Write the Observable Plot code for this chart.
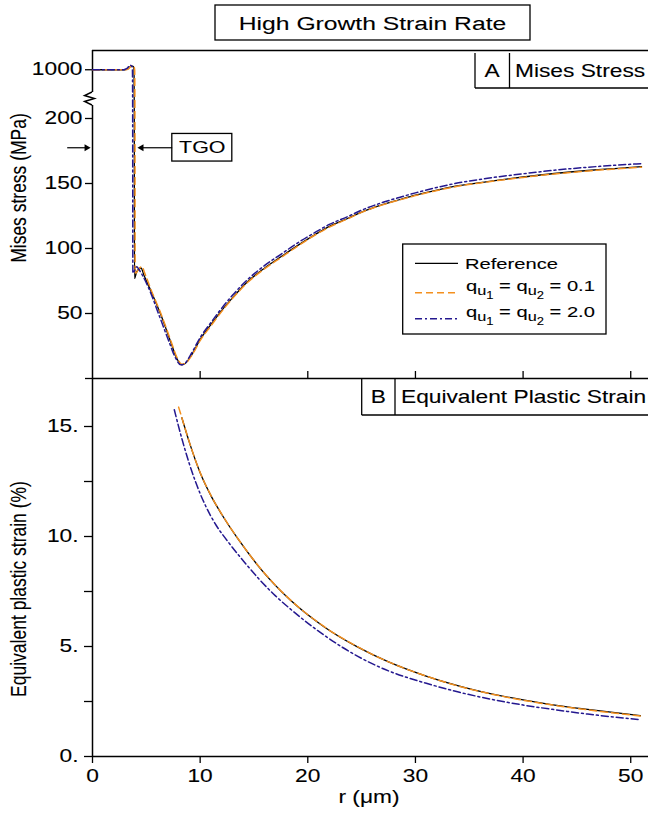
<!DOCTYPE html>
<html>
<head>
<meta charset="utf-8">
<script src="https://cdn.jsdelivr.net/npm/d3@7"></script>
<script src="https://cdn.jsdelivr.net/npm/@observablehq/plot@0.6"></script>
<style>
html,body{margin:0;padding:0;background:#fff;}
#chart{width:648px;height:813px;overflow:hidden;}
#chart svg{display:block;overflow:visible;}
#chart svg text{stroke:#000;stroke-width:0.1px;}
</style>
</head>
<body>
<div id="chart"></div>
<script>
// ---------------- data ----------------
// Panel A: Mises stress (MPa) vs r (µm)
const refStressR = [0, 3.0, 3.3, 3.6, 3.8, 3.86, 3.88, 3.9, 4.1, 4.5, 4.8, 5.5, 6.35, 7.27, 7.8, 8.3, 8.6, 9.2, 10.06, 11, 11.9, 13, 14.4, 16, 17.5, 19, 20.6, 22, 23.7, 25, 26.8, 28.5, 30, 32, 34, 36.7, 40, 42.9, 46, 48.5, 51];
const refStress  = [1000, 1000, 1003, 1012, 1010, 990, 300, 77, 82, 85, 79, 66, 49, 28, 16, 10.5, 11.5, 18, 30.8, 41.5, 51.3, 62, 74.4, 85, 93.6, 102, 110.3, 117, 123.1, 128, 133.4, 137.5, 141, 144.9, 148.3, 151.5, 155, 157.7, 160, 161.5, 163];
const q01StressR = [0, 3.0, 3.35, 3.65, 3.85, 3.92, 3.94, 3.96, 4.2, 4.58, 4.9, 5.5, 6.35, 7.3, 7.8, 8.3, 8.6, 9.2, 10.06, 11, 11.9, 13, 14.4, 16, 17.5, 19, 20.6, 22, 23.7, 25, 26.8, 28.5, 30, 32, 34, 36.7, 40, 42.9, 46, 48.5, 51];
const q01Stress  = [1000, 1000, 1003, 1012, 1010, 990, 300, 80, 83, 86, 80, 67, 50, 28.5, 17, 11, 11.5, 17.5, 30, 40.5, 50.5, 61.5, 73.8, 84.5, 93, 101.5, 110, 116.5, 122.8, 127.8, 133.2, 137.3, 140.7, 144.6, 148, 151.2, 154.7, 157.3, 159.6, 161.1, 162.5];
const q20StressR = [0, 2.9, 3.2, 3.5, 3.66, 3.71, 3.73, 3.75, 4.12, 4.3, 4.6, 5.3, 6.17, 7.1, 7.7, 8.2, 8.5, 9.1, 10, 11, 11.9, 13, 14.4, 16, 17.5, 19, 20.6, 22, 23.7, 25, 26.8, 28.5, 30, 32, 34, 36.7, 40, 42.9, 46, 48.5, 51];
const q20Stress  = [1000, 1000, 1004, 1014, 1010, 990, 300, 81, 86, 84, 80, 68, 49, 28.5, 16, 10.5, 11, 18, 31.5, 43, 53, 64, 76, 87, 95.5, 104, 112, 118.5, 124.5, 129.5, 135, 139.3, 142.8, 147, 150.5, 154, 157.5, 160.2, 162.5, 164, 165.3];

// Panel B: equivalent plastic strain (%) vs r (µm)
const refStrainR = [8.3, 9, 10, 11, 12, 13.6, 15.5, 18.4, 21.5, 24.65, 27.5, 30.85, 34, 37.05, 40, 42.6, 46, 50.9];
const refStrain  = [15.4, 14.28, 12.9, 11.86, 11.01, 9.83, 8.6, 7.1, 5.9, 4.97, 4.3, 3.68, 3.21, 2.85, 2.57, 2.36, 2.14, 1.86];
const q01StrainR = [8.0, 8.3, 9, 10, 11, 12, 13.6, 15.5, 18.4, 21.5, 24.65, 27.5, 30.85, 34, 37.05, 40, 42.6, 46, 50.9];
const q01Strain  = [15.88, 15.4, 14.28, 12.91, 11.87, 11.02, 9.84, 8.61, 7.11, 5.91, 4.98, 4.3, 3.68, 3.2, 2.84, 2.56, 2.35, 2.12, 1.84];
const q20StrainR = [7.6, 8.3, 9, 9.6, 10.5, 11.5, 12.53, 14, 15.5, 17, 18.44, 21.5, 24.65, 27.5, 30.85, 34, 37.05, 40, 42.6, 46, 50.9];
const q20Strain  = [15.76, 14.45, 13.3, 12.45, 11.4, 10.5, 9.8, 8.9, 8.05, 7.3, 6.68, 5.52, 4.55, 3.89, 3.35, 2.93, 2.6, 2.34, 2.15, 1.93, 1.67];

// series, ticks, annotations
const seriesKeys   = ["Reference", "q01", "q20"];
const seriesValues = [null, "0.1", "2.0"];
const xTicks      = [0, 10, 20, 30, 40, 50];
const stressTicks = [0, 50, 100, 150, 200, 1000];
const strainTicks = [0, 2.5, 5, 7.5, 10, 12.5, 15];
const arrowFromR  = [-2.35, 7.4];
const arrowToR    = [-0.55, 4.55];
const arrowStress = [177.5, 177.5];
const tgoR = 10.2, tgoStress = 177.5;

// ---------------- helpers ----------------
const FONT = '"Liberation Sans", Arial, Helvetica, sans-serif';
const SX = 1.3;             // horizontal stretch of the reference's lettering
const NS = "http://www.w3.org/2000/svg";
const W = 648, XMAX = 51.65, ML = 92;
const TOP_H = 378, TOP_MT = 50, YTOP = (TOP_H - TOP_MT) / 1.3;
const BOT_H = 435, BOT_MB = 57, YBOT = (BOT_H - BOT_MB) / 22;

const styles = {
  Reference: {stroke: "#000000", strokeWidth: 1.3},
  q01: {stroke: "#f4901e", strokeWidth: 1.5, strokeDasharray: "7,4"},
  q20: {stroke: "#24188f", strokeWidth: 1.5, strokeDasharray: "7,3,2,3"}
};
function brk(v) {       // broken stress axis: compress 205..1000 and above
  if (v <= 205) return v;
  if (v <= 1000) return 205 + (v - 205) * (32.5 / 795);
  return 237.5 + (v - 1000) * 0.25;
}
const zip = (rs, vs) => rs.map((r, i) => ({r, v: vs[i]}));
const stressData = {Reference: zip(refStressR, refStress), q01: zip(q01StressR, q01Stress), q20: zip(q20StressR, q20Stress)};
const strainData = {Reference: zip(refStrainR, refStrain), q01: zip(q01StrainR, q01Strain), q20: zip(q20StrainR, q20Strain)};
const arrows = arrowFromR.map((x1, i) => ({x1, x2: arrowToR[i], y: arrowStress[i]}));
const topLabel = new Map(stressTicks.map(t => [brk(t), t === 0 ? "" : String(t)]));

const plotStyle = {fontFamily: FONT, fontSize: "17.5px", color: "#000", background: "transparent", overflow: "visible"};

const topPlot = Plot.plot({
  width: W, height: TOP_H, marginTop: TOP_MT, marginBottom: 0, marginLeft: ML, marginRight: 0,
  style: plotStyle,
  x: {domain: [0, XMAX], label: null},
  y: {domain: [0, YTOP], label: null},
  marks: [
    Plot.ruleY([YTOP], {strokeWidth: 1.5}),
    Plot.ruleY([0], {strokeWidth: 1.5}),
    Plot.ruleX([0], {y1: 0, y2: 210, strokeWidth: 1.5}),
    Plot.ruleX([0], {y1: 220, y2: YTOP, strokeWidth: 1.5}),
    Plot.axisY(stressTicks.map(brk), {tickSize: 7, tickPadding: 3, tickFormat: d => topLabel.get(d), label: null, strokeWidth: 1.3}),
    Plot.axisX(xTicks.slice(1), {anchor: "bottom", tickSize: -7, tickFormat: () => "", label: null, strokeWidth: 1.3}),
    ...seriesKeys.map(k => Plot.line(stressData[k], {x: "r", y: d => brk(d.v), curve: "monotone-x", ...styles[k]})),
    Plot.link(arrows, {x1: "x1", x2: "x2", y1: "y", y2: "y", strokeWidth: 1.2}),
    Plot.dot(arrows.filter(d => d.x2 > d.x1), {x: "x2", y: "y", symbol: "triangle", rotate: 90, r: 2.6, fill: "#000", stroke: "none"}),
    Plot.dot(arrows.filter(d => d.x2 < d.x1), {x: "x2", y: "y", symbol: "triangle", rotate: -90, r: 2.6, fill: "#000", stroke: "none"}),
    Plot.text([{r: tgoR, v: tgoStress}], {x: "r", y: "v", text: () => "TGO", fontSize: 16.5})
  ]
});

const botPlot = Plot.plot({
  width: W, height: BOT_H, marginTop: 0, marginBottom: BOT_MB, marginLeft: ML, marginRight: 0,
  style: plotStyle,
  x: {domain: [0, XMAX], label: null},
  y: {domain: [0, YBOT], label: null},
  marks: [
    Plot.ruleX([0], {strokeWidth: 1.5}),
    Plot.ruleY([0], {strokeWidth: 1.5}),
    Plot.axisY(strainTicks, {tickSize: 8, tickPadding: 6, tickFormat: d => Number.isInteger(d) ? d + "." : "", label: null, strokeWidth: 1.3}),
    Plot.axisX(xTicks, {anchor: "bottom", tickSize: 7, tickPadding: 6, label: null, strokeWidth: 1.3}),
    ...seriesKeys.map(k => Plot.line(strainData[k], {x: "r", y: "v", curve: "monotone-x", ...styles[k]}))
  ]
});

const chart = document.getElementById("chart");
chart.appendChild(topPlot);
chart.appendChild(botPlot);

// stretch horizontal lettering like the reference
function stretchAll(svg, sx) {
  svg.querySelectorAll("text").forEach(el => {
    const t = el.getAttribute("transform") || "";
    if (t.includes("rotate")) return;
    const bb = el.getBBox();
    const anc = getComputedStyle(el).textAnchor;
    const ax = anc === "end" ? bb.x + bb.width : anc === "middle" ? bb.x + bb.width / 2 : bb.x;
    el.setAttribute("transform", `${t} translate(${ax},0) scale(${sx},1) translate(${-ax},0)`);
  });
}
stretchAll(topPlot, SX);
stretchAll(botPlot, SX);

function el(parent, name, attrs) {
  const e = document.createElementNS(NS, name);
  for (const k in attrs) e.setAttribute(k, attrs[k]);
  parent.appendChild(e);
  return e;
}
function txt(parent, x, y, str, {size = 17.5, anchor = "middle", sx = SX, rotate = 0} = {}) {
  const tf = rotate ? `translate(${x},${y}) rotate(${rotate}) scale(1,${sx})` : `translate(${x},${y}) scale(${sx},1)`;
  const t = el(parent, "text", {transform: tf, "text-anchor": anchor, dy: "0.36em", "font-size": size, "font-family": FONT, fill: "#000"});
  t.textContent = str;
  return t;
}
const line = (p, x1, y1, x2, y2, extra = {}) => el(p, "line", {x1, y1, x2, y2, stroke: "#000", "stroke-width": 1.3, ...extra});

// ---- top panel decorations ----
const gT = el(topPlot, "g", {});
const yT = topPlot.scale("y"), xT = topPlot.scale("x");
// title
el(gT, "rect", {x: 215, y: 5, width: 315, height: 35, fill: "#fff", stroke: "#000", "stroke-width": 1.3});
txt(gT, 372.5, 23, "High Growth Strain Rate", {size: 19});
// panel A label
line(gT, 475, 53, 475, 88); line(gT, 509.5, 53, 509.5, 88); line(gT, 475, 88, 650, 88);
txt(gT, 492, 70.5, "A");
txt(gT, 515, 70.5, "Mises Stress", {anchor: "start"});
// y label
txt(gT, 18, 188, "Mises stress (MPa)", {rotate: -90});
// axis break zigzag
const ax0 = xT.apply(0);
const zz = [[0, 220], [-7.5, 217.3], [2.5, 215], [-7.5, 212.7], [0, 210]].map(([dx, v]) => `${ax0 + dx},${yT.apply(v)}`).join(" ");
el(gT, "polyline", {points: zz, fill: "none", stroke: "#000", "stroke-width": 1.4});
// TGO box
{
  const cx = xT.apply(tgoR), cy = yT.apply(tgoStress);
  el(gT, "rect", {x: cx - 30, y: cy - 13.8, width: 60, height: 27.6, fill: "none", stroke: "#000", "stroke-width": 1.3});
}
// legend
el(gT, "rect", {x: 402.7, y: 244, width: 203.3, height: 90, fill: "#fff", stroke: "#000", "stroke-width": 1.3});
const rowsY = [263.3, 290.7, 316.7];
seriesKeys.forEach((k, i) => {
  const s = styles[k];
  const ly = rowsY[i] + (i ? 2 : 0);
  line(gT, 415, ly, 458, ly, {stroke: s.stroke, "stroke-width": s.strokeWidth, ...(s.strokeDasharray ? {"stroke-dasharray": s.strokeDasharray} : {})});
  if (i === 0) {
    txt(gT, 465, rowsY[i], "Reference", {anchor: "start", size: 15.5, sx: 1.3});
  } else {
    const t = txt(gT, 466, rowsY[i], "", {anchor: "start", size: 15.5, sx: 1.3});
    const parts = [["q", 0, 15.5], ["u", 4, 12.5], ["1", 4, 10], [" = q", -8, 15.5], ["u", 4, 12.5], ["2", 4, 10], [" = " + seriesValues[i], -8, 15.5]];
    parts.forEach(([str, dy, fs]) => { const ts = el(t, "tspan", {dy, "font-size": fs}); ts.textContent = str; });
  }
});

// ---- bottom panel decorations ----
const gB = el(botPlot, "g", {});
line(gB, 361.7, 0, 361.7, 37); line(gB, 395, 0, 395, 37); line(gB, 361.7, 37, 650, 37);
txt(gB, 378.3, 19, "B");
txt(gB, 401, 19, "Equivalent Plastic Strain", {anchor: "start"});
txt(gB, 18, 211, "Equivalent plastic strain (%)", {rotate: -90});
txt(gB, 369, 419, "r (\u03bcm)");
</script>
</body>
</html>
